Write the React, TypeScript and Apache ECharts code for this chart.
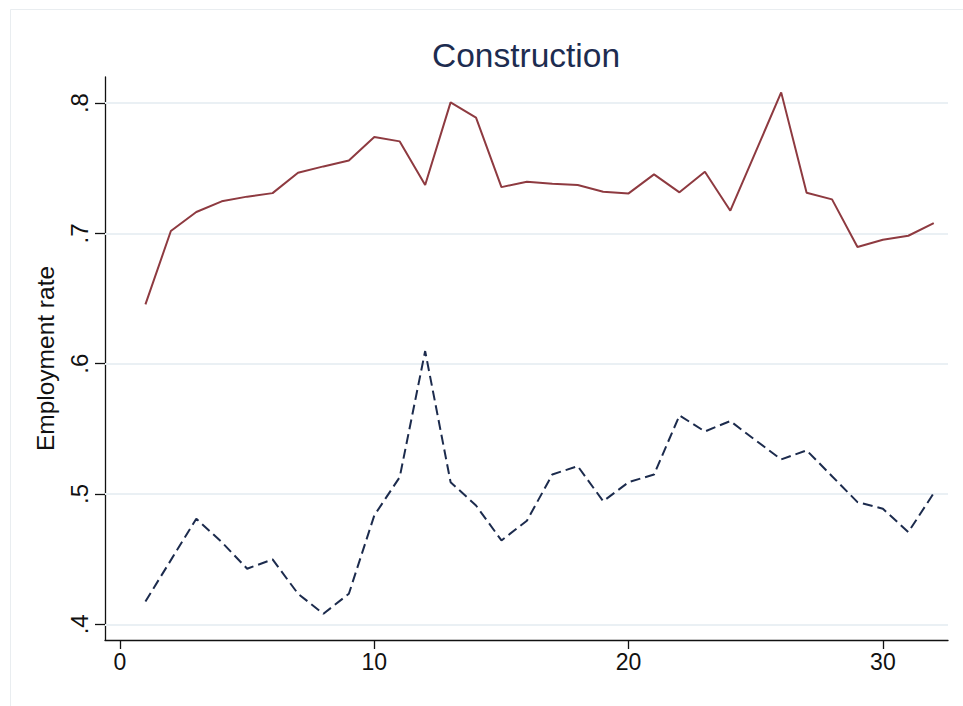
import React, { useEffect, useRef } from "react";
import * as echarts from "echarts";

const periods = [1, 2, 3, 4, 5, 6, 7, 8, 9, 10, 11, 12, 13, 14, 15, 16, 17, 18, 19, 20, 21, 22, 23, 24, 25, 26, 27, 28, 29, 30, 31, 32];
const upperSeries = [0.6455, 0.7018, 0.7164, 0.7246, 0.7282, 0.7309, 0.7466, 0.7514, 0.756, 0.7739, 0.7706, 0.7371, 0.8005, 0.7888, 0.7355, 0.7397, 0.7381, 0.7371, 0.732, 0.7307, 0.7453, 0.7315, 0.7473, 0.7174, 0.7627, 0.8082, 0.7312, 0.7261, 0.6895, 0.6951, 0.6982, 0.7079];
const lowerSeries = [0.4176, 0.4493, 0.481, 0.4631, 0.4427, 0.4498, 0.4235, 0.4081, 0.4235, 0.4836, 0.513, 0.6097, 0.5091, 0.4912, 0.4644, 0.4795, 0.515, 0.5214, 0.4945, 0.5091, 0.515, 0.5603, 0.548, 0.556, 0.5411, 0.5266, 0.5335, 0.5137, 0.4938, 0.4887, 0.4708, 0.5007];
const xTicks = [0, 10, 20, 30];
const yTicks = [0.4, 0.5, 0.6, 0.7, 0.8];
const yTickLabels = [".4", ".5", ".6", ".7", ".8"];
const titleText = "Construction";
const yAxisTitle = "Employment rate";

const FONT = "'Liberation Sans', Arial, Helvetica, sans-serif";

export default function App() {
  const ref = useRef<HTMLDivElement>(null);
  useEffect(() => {
    if (!ref.current) return;
    const chart = echarts.init(ref.current, null, { renderer: "svg" });
    const upper = periods.map((p, i) => [p, upperSeries[i]]);
    const lower = periods.map((p, i) => [p, lowerSeries[i]]);
    chart.setOption({
      animation: false,
      backgroundColor: "#ffffff",
      graphic: [
        {
          type: "rect",
          shape: { x: 10.5, y: 9.5, width: 1000, height: 1000 },
          style: { fill: "none", stroke: "#e9edf0", lineWidth: 1 },
          silent: true,
          z: -10,
        },
      ],
      title: {
        text: titleText,
        left: 521,
        top: 33,
        textAlign: "center",
        textStyle: { fontFamily: FONT, fontSize: 33.5, fontWeight: "normal", color: "#1d2c50" },
      },
      grid: { left: 105, right: 15, top: 77, bottom: 66, containLabel: false },
      xAxis: {
        type: "value",
        min: -0.59,
        max: 32.56,
        axisLine: { show: true, onZero: false, lineStyle: { color: "#111111", width: 1.3 } },
        axisTick: { show: true, length: 9, customValues: xTicks, lineStyle: { color: "#111111", width: 1.3 } },
        axisLabel: {
          customValues: xTicks,
          fontFamily: FONT,
          fontSize: 23,
          color: "#111111",
          margin: 10,
          formatter: (v: number) => String(v),
        },
        splitLine: { show: false },
      },
      yAxis: {
        type: "value",
        min: 0.388,
        max: 0.82,
        name: yAxisTitle,
        nameLocation: "middle",
        nameGap: 47,
        nameRotate: 90,
        nameTextStyle: { fontFamily: FONT, fontSize: 24.5, color: "#111111" },
        axisLine: { show: true, onZero: false, lineStyle: { color: "#111111", width: 1.3 } },
        axisTick: { show: true, length: 10, customValues: yTicks, lineStyle: { color: "#111111", width: 1.3 } },
        axisLabel: {
          customValues: yTicks,
          rotate: 90,
          fontFamily: FONT,
          fontSize: 24,
          color: "#111111",
          margin: 14,
          formatter: (v: number) => {
            const idx = yTicks.findIndex((t) => Math.abs(t - v) < 1e-6);
            return idx >= 0 ? yTickLabels[idx] : "";
          },
        },
        splitLine: { show: false },
      },
      series: [
        {
          type: "line",
          data: upper,
          symbol: "none",
          lineStyle: { color: "#8e3a40", width: 2 },
          z: 3,
          markLine: {
            silent: true,
            symbol: "none",
            label: { show: false },
            lineStyle: { color: "#eaf0f4", width: 2, type: "solid" },
            data: yTicks.map((t) => ({ yAxis: t })),
            z: 1,
          },
        },
        {
          type: "line",
          data: lower,
          symbol: "none",
          lineStyle: { color: "#1c2b4d", width: 2, type: [10, 5] },
          z: 3,
        },
      ],
    });
    return () => chart.dispose();
  }, []);
  return (
    <div
      ref={ref}
      style={{ position: "absolute", left: 0, top: 0, width: 963, height: 706, background: "#fff" }}
    />
  );
}
